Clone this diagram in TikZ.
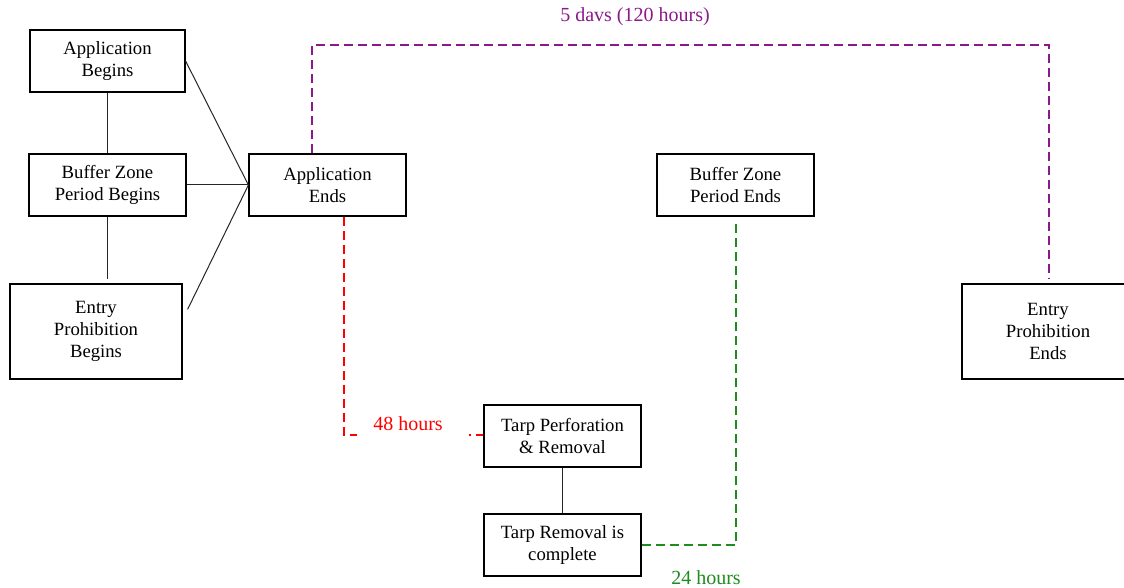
\documentclass[tikz,border=0pt]{standalone}
\usepackage{fontspec}
\setmainfont{Liberation Serif}
\usetikzlibrary{calc}
\definecolor{purp}{RGB}{140,25,140}
\definecolor{grn}{RGB}{30,140,30}
\definecolor{rd}{RGB}{255,0,0}
\begin{document}
\begin{tikzpicture}[x=1pt,y=-1pt,
  box/.style={draw=black,line width=1.2pt,align=center,inner sep=0pt,
    font=\fontsize{18.7}{22}\selectfont},
  conn/.style={line width=1pt,black!85},
  dsh/.style={line width=1.1pt,dash pattern=on 9pt off 5pt},
  lbl/.style={font=\fontsize{20}{24}\selectfont,inner sep=2pt}]
\clip (0,0) rectangle (1124,588);
\fill[white] (0,0) rectangle (1124,588);
% boxes
\node[box,minimum width=155pt,minimum height=62pt] (AB) at (107.5,61) {Application\\Begins};
\node[box,minimum width=157pt,minimum height=62pt] (BB) at (107.5,185) {Buffer Zone\\Period Begins};
\node[box,minimum width=172pt,minimum height=95pt] (EB) at (96,331.5) {Entry\\Prohibition\\Begins};
\node[box,minimum width=157pt,minimum height=62pt] (AE) at (327.5,185) {Application\\Ends};
\node[box,minimum width=157pt,minimum height=62pt] (BE) at (735.5,185) {Buffer Zone\\Period Ends};
\node[box,minimum width=172pt,minimum height=95pt] (EE) at (1048,331.5) {Entry\\Prohibition\\Ends};
\node[box,minimum width=157pt,minimum height=62pt] (TP) at (562.5,436) {Tarp Perforation\\\& Removal};
\node[box,minimum width=157pt,minimum height=62pt] (TC) at (562.5,545) {Tarp Removal is\\complete};
% solid connectors
\draw[conn] (AB.south) -- (BB.north);
\coordinate (EBtop) at ($(BB.south |- EB.north)+(0,-4)$);
\draw[conn] (BB.south) -- (EBtop);
\draw[conn] (AB.east) -- (AE.west);
\draw[conn] (BB.east) -- (AE.west);
\coordinate (EBr) at ($(EB.north east)+(5,26)$);
\draw[conn] (EBr) -- (AE.west);
\draw[conn] (TP.south) -- (TC.north);
% purple
\coordinate (Pst) at ($(AE.north)+(-15.5,0)$);
\coordinate (Pend) at ($(EE.north)+(1,-4)$);
\draw[dsh,purp] (Pst) -- (Pst |- 0,45) -- (Pend |- 0,45) -- (Pend);
\node[lbl,text=purp] (L5) at (635,17) {5 davs (120 hours)};
% red
\coordinate (Rst) at ($(AE.south)+(16.5,0)$);
\draw[dsh,rd] (Rst) -- (Rst |- 0,435) -- (TP.west |- 0,435);
\node[fill=white,inner sep=0pt,minimum width=112pt,minimum height=30pt] (mask) at (413,428) {};
\node[lbl,text=rd] (L48) at (408,424) {48 hours};
% green
\coordinate (Gend) at ($(BE.south)+(0.5,6)$);
\draw[dsh,grn] (TC.east) -| (Gend);
\node[lbl,text=grn] (L24) at (706,578) {24 hours};
\end{tikzpicture}
\end{document}
